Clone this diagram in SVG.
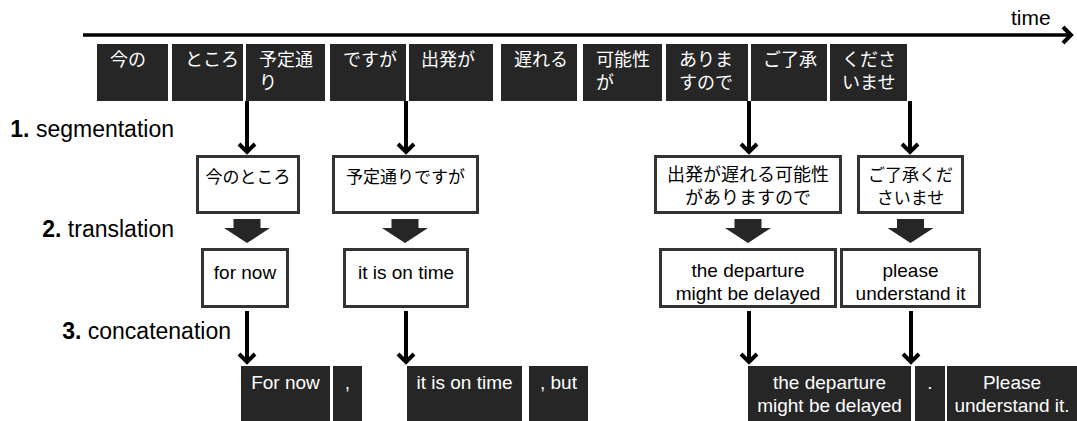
<svg xmlns="http://www.w3.org/2000/svg" width="1077" height="421" viewBox="0 0 1077 421">
<style>
.tok{fill:#262626}
.tt{fill:#fff;font-family:"Liberation Sans","Noto Sans CJK JP",sans-serif;font-size:18px}
.bx{fill:#fff;stroke:#333;stroke-width:3}
.jt{fill:#000;font-family:"Liberation Sans","Noto Sans CJK JP",sans-serif;font-size:17px;text-anchor:middle}
.et{fill:#000;font-family:"Liberation Sans",Arial,sans-serif;font-size:19px;text-anchor:middle}
.bt{fill:#fff;font-family:"Liberation Sans",Arial,sans-serif;font-size:19px;text-anchor:middle}
.lbl{fill:#000;font-family:"Liberation Sans",Arial,sans-serif;font-size:23px;text-anchor:end}
.ln{stroke:#000;stroke-width:4;fill:none}
.blk{fill:#262626}
</style>
<defs>
<marker id="chev" markerUnits="userSpaceOnUse" viewBox="-12 -12 24 24" refX="0" refY="0" markerWidth="24" markerHeight="24" orient="auto">
<path d="M -8 -8 L 0 0 L -8 8" fill="none" stroke="#000" stroke-width="4"/>
</marker>
<path id="fat" d="M -13.5 0 H 13.5 V 9 H 23 L 0 24 L -23 9 H -13.5 Z"/>
</defs>

<g id="timeline">
<line x1="83" y1="35" x2="1071" y2="35" stroke="#000" stroke-width="3.5" marker-end="url(#chev)"/>
<text x="1011" y="25" style="fill:#000;font-family:'Liberation Sans',Arial,sans-serif;font-size:21px">time</text>
</g>

<g id="labels">
<text class="lbl" x="174" y="137"><tspan font-weight="bold">1.</tspan> segmentation</text>
<text class="lbl" x="174" y="237"><tspan font-weight="bold">2.</tspan> translation</text>
<text class="lbl" x="231" y="339"><tspan font-weight="bold">3.</tspan> concatenation</text>
</g>

<g id="tokens">
<g id="t1"><rect class="tok" x="97" y="44" width="71" height="57"/><text class="tt" x="110" y="66">今の</text></g>
<g id="t2"><rect class="tok" x="172" y="44" width="71" height="57"/><text class="tt" x="185" y="66">ところ</text></g>
<g id="t3"><rect class="tok" x="246" y="44" width="79" height="57"/><text class="tt" x="259" y="66">予定通</text><text class="tt" x="259" y="89">り</text></g>
<g id="t4"><rect class="tok" x="330" y="44" width="76" height="57"/><text class="tt" x="343" y="66">ですが</text></g>
<g id="t5"><rect class="tok" x="409" y="44" width="84" height="57"/><text class="tt" x="421" y="66">出発が</text></g>
<g id="t6"><rect class="tok" x="501" y="44" width="76" height="57"/><text class="tt" x="514" y="66">遅れる</text></g>
<g id="t7"><rect class="tok" x="583" y="44" width="79" height="57"/><text class="tt" x="596" y="66">可能性</text><text class="tt" x="596" y="89">が</text></g>
<g id="t8"><rect class="tok" x="666" y="44" width="82" height="57"/><text class="tt" x="679" y="66">ありま</text><text class="tt" x="679" y="89">すので</text></g>
<g id="t9"><rect class="tok" x="751" y="44" width="76" height="57"/><text class="tt" x="763" y="66">ご了承</text></g>
<g id="t10"><rect class="tok" x="830" y="44" width="77" height="57"/><text class="tt" x="842" y="66">くださ</text><text class="tt" x="842" y="89">いませ</text></g>
</g>

<g id="segments">
<g id="s1"><rect class="bx" x="197.5" y="156.5" width="101" height="56"/><text class="jt" x="248" y="183">今のところ</text></g>
<g id="s2"><rect class="bx" x="333.5" y="156.5" width="144" height="56"/><text class="jt" x="405.5" y="183">予定通りですが</text></g>
<g id="s3"><rect class="bx" x="655.5" y="156.5" width="185" height="56"/><text class="jt" x="748" y="181" style="font-size:18px">出発が遅れる可能性</text><text class="jt" x="748" y="204" style="font-size:18px">がありますので</text></g>
<g id="s4"><rect class="bx" x="858.5" y="156.5" width="104" height="56"/><text class="jt" x="910.5" y="181">ご了承くだ</text><text class="jt" x="910.5" y="204">さいませ</text></g>
</g>

<g id="translations">
<g id="e1"><rect class="bx" x="202.5" y="249.5" width="85" height="57"/><text class="et" x="245" y="279">for now</text></g>
<g id="e2"><rect class="bx" x="344.5" y="249.5" width="123" height="57"/><text class="et" x="406" y="279">it is on time</text></g>
<g id="e3"><rect class="bx" x="660.5" y="249.5" width="175" height="57"/><text class="et" x="748" y="277">the departure</text><text class="et" x="748" y="300">might be delayed</text></g>
<g id="e4"><rect class="bx" x="841.5" y="249.5" width="138" height="57"/><text class="et" x="910.5" y="277">please</text><text class="et" x="910.5" y="300">understand it</text></g>
</g>

<g id="outputs">
<g id="o1"><rect class="tok" x="241" y="366" width="89" height="56"/><text class="bt" x="285.5" y="389">For now</text></g>
<g id="o2"><rect class="tok" x="333" y="366" width="29" height="56"/><text class="bt" x="347.5" y="389">,</text></g>
<g id="o3"><rect class="tok" x="407" y="366" width="115" height="56"/><text class="bt" x="464.5" y="389">it is on time</text></g>
<g id="o4"><rect class="tok" x="529" y="366" width="59" height="56"/><text class="bt" x="558.5" y="389">, but</text></g>
<g id="o5"><rect class="tok" x="748" y="366" width="163" height="56"/><text class="bt" x="829.5" y="389">the departure</text><text class="bt" x="829.5" y="412">might be delayed</text></g>
<g id="o6"><rect class="tok" x="915" y="366" width="30" height="56"/><text class="bt" x="930" y="389">.</text></g>
<g id="o7"><rect class="tok" x="947" y="366" width="131" height="56"/><text class="bt" x="1012" y="389">Please</text><text class="bt" x="1012" y="412">understand it.</text></g>
</g>

<g id="connectors">
<line class="ln" x1="247" y1="101" x2="247" y2="152" marker-end="url(#chev)"/>
<line class="ln" x1="406" y1="101" x2="406" y2="152" marker-end="url(#chev)"/>
<line class="ln" x1="749" y1="101" x2="749" y2="152" marker-end="url(#chev)"/>
<line class="ln" x1="910" y1="101" x2="910" y2="152" marker-end="url(#chev)"/>
<use href="#fat" class="blk" x="247" y="219"/>
<use href="#fat" class="blk" x="405" y="219"/>
<use href="#fat" class="blk" x="748" y="219"/>
<use href="#fat" class="blk" x="910.5" y="219"/>
<line class="ln" x1="247" y1="311" x2="247" y2="362" marker-end="url(#chev)"/>
<line class="ln" x1="406" y1="311" x2="406" y2="362" marker-end="url(#chev)"/>
<line class="ln" x1="749" y1="311" x2="749" y2="362" marker-end="url(#chev)"/>
<line class="ln" x1="911" y1="311" x2="911" y2="362" marker-end="url(#chev)"/>
</g>
</svg>
